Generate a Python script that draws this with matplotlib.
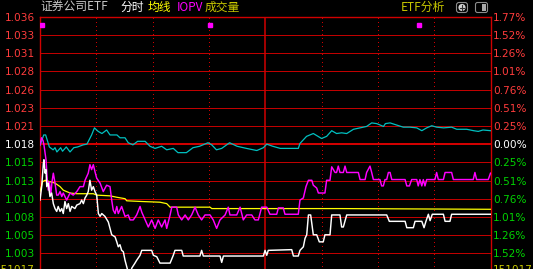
import matplotlib
matplotlib.use("Agg")
import matplotlib.pyplot as plt
from matplotlib.patches import FancyBboxPatch, Circle, Rectangle

# intraday chart, minutes 0..240 (9:30-11:30, 13:00-15:00)
prev_close = 1.018
grid_step = 0.0025714

price_labels = ["1.036", "1.033", "1.031", "1.028", "1.026", "1.023", "1.021",
                "1.018", "1.015", "1.013", "1.010", "1.008", "1.005", "1.003"]
pct_labels = ["1.77%", "1.52%", "1.26%", "1.01%", "0.76%", "0.51%", "0.25%",
              "0.00%", "0.25%", "0.51%", "0.76%", "1.01%", "1.26%", "1.52%"]
grid_steps = [7, 6, 5, 4, 3, 2, 1, 0, -1, -2, -3, -4, -5, -6]

# cyan line
cyan_t = [0, 2, 3, 4.4, 5, 7, 8, 9, 11, 12, 14, 16, 18, 20, 23, 25, 27.5, 29, 31, 33,
          35.5, 37.3, 41, 42.6, 45.3, 47, 49.5, 52, 56, 58.6, 61.3, 64.8, 67.5, 71,
          73.5, 78, 81.5, 85, 89.5, 91.5, 94, 96.8, 101, 105, 110, 115.5, 119, 120.8,
          124, 128, 137.6, 138.5, 142, 145.6, 150, 152.7, 155.4, 158, 160.7, 163.4,
          167, 170.5, 174, 176.7, 179.4, 183, 184, 186.5, 190, 193.5, 197, 200.7,
          203.4, 206, 208.7, 211.3, 215, 219.3, 222, 227.3, 231, 233.5, 236, 240]
cyan_v = [1.0178, 1.0193, 1.0193, 1.0181, 1.0176, 1.0172, 1.0175, 1.0169, 1.0175,
          1.0170, 1.0176, 1.0169, 1.0175, 1.0176, 1.0179, 1.0180, 1.0193, 1.0203,
          1.0198, 1.0195, 1.0200, 1.0193, 1.0193, 1.0189, 1.0189, 1.0182, 1.0179,
          1.0184, 1.0184, 1.0177, 1.0174, 1.0177, 1.0172, 1.0174, 1.0168, 1.0168,
          1.0175, 1.0177, 1.0182, 1.0179, 1.0172, 1.0174, 1.0182, 1.0177, 1.0174,
          1.0171, 1.0175, 1.0180, 1.0177, 1.0174, 1.0174, 1.0181, 1.0191, 1.0195,
          1.0188, 1.0191, 1.0199, 1.0195, 1.0196, 1.0195, 1.0201, 1.0203, 1.0205,
          1.0210, 1.0209, 1.0205, 1.0209, 1.0210, 1.0207, 1.0204, 1.0204, 1.0203,
          1.0199, 1.0203, 1.0206, 1.0204, 1.0203, 1.0204, 1.0201, 1.0201, 1.0199,
          1.0198, 1.0200, 1.0199]

# IOPV (magenta)
iopv_t = [0, 0.8, 1.6, 2.1, 3.2, 3.9, 4.4, 5, 5.7, 6.4, 7.1, 8, 8.9, 9.7, 10.7, 11.6,
          12.4, 13.3, 14.2, 15.1, 16, 17.7, 19.6, 21.3, 23.1, 24, 25.7, 26.6, 27.5,
          28.4, 29.3, 30.2, 32, 33.7, 35.5, 37.3, 38.2, 39, 40, 40.9, 41.7, 43.5,
          45.3, 47, 48, 49.7, 51.5, 53.3, 54.2, 56, 57.7, 59.5, 61.3, 63, 64.8, 66.6,
          67.5, 69.3, 70.2, 72.8, 73.7, 75.5, 77.3, 79, 80.8, 82.6, 84.3, 86.1, 87.9,
          90.6, 92.3, 94.1, 95.9, 98.6, 100.3, 101.2, 104.8, 106.6, 108.3, 110.1,
          112.8, 114.5, 116.3, 118.1, 120.8, 122.5, 126.1, 127, 129.6, 130.5, 137.6,
          138.5, 140.3, 141.7, 143, 144.8, 145.6, 147.4, 148.3, 151.8, 152.7, 154.5,
          155.4, 157.2, 158, 158.9, 159.8, 161.6, 162.5, 163.4, 169.6, 170.5, 173.2,
          174, 175.8, 176.7, 177.6, 181.1, 182, 182.9, 183.8, 184.7, 185.6, 186.5,
          187.4, 194.5, 195.4, 196.8, 198, 200.7, 201.5, 202.4, 203.4, 204.2, 205.1,
          206, 210.4, 211.3, 212.2, 214.9, 215.8, 219.3, 220.2, 230.8, 231.7, 232.6,
          238.8, 240]
iopv_v = [1.0179, 1.0189, 1.0185, 1.0179, 1.0158, 1.0129, 1.0115, 1.0127, 1.0108,
          1.0127, 1.0139, 1.0125, 1.0108, 1.0108, 1.0113, 1.0106, 1.0111, 1.0106,
          1.0101, 1.0106, 1.0111, 1.0108, 1.0113, 1.0120, 1.0120, 1.0129, 1.0139,
          1.0151, 1.0144, 1.0151, 1.0141, 1.0132, 1.0125, 1.0113, 1.0122, 1.0120,
          1.0101, 1.0087, 1.0082, 1.0092, 1.0082, 1.0092, 1.0078, 1.0080, 1.0073,
          1.0073, 1.0080, 1.0092, 1.0084, 1.0073, 1.0063, 1.0073, 1.0061, 1.0073,
          1.0063, 1.0073, 1.0061, 1.0080, 1.0091, 1.0091, 1.0080, 1.0073, 1.0080,
          1.0073, 1.0080, 1.0091, 1.0080, 1.0073, 1.0080, 1.0080, 1.0073, 1.0061,
          1.0073, 1.0080, 1.0091, 1.0080, 1.0080, 1.0091, 1.0073, 1.0080, 1.0080,
          1.0073, 1.0073, 1.0091, 1.0091, 1.0081, 1.0081, 1.0090, 1.0090, 1.0081,
          1.0081, 1.0101, 1.0104, 1.0120, 1.0129, 1.0129, 1.0122, 1.0118, 1.0111,
          1.0111, 1.0129, 1.0129, 1.0148, 1.0140, 1.0140, 1.0149, 1.0140, 1.0140,
          1.0149, 1.0140, 1.0140, 1.0130, 1.0130, 1.0140, 1.0149, 1.0140, 1.0130,
          1.0130, 1.0121, 1.0121, 1.0130, 1.0130, 1.0140, 1.0140, 1.0130, 1.0130,
          1.0121, 1.0121, 1.0130, 1.0130, 1.0121, 1.0130, 1.0121, 1.0130, 1.0121,
          1.0130, 1.0130, 1.0140, 1.0130, 1.0130, 1.0140, 1.0140, 1.0130, 1.0130,
          1.0140, 1.0130, 1.0130, 1.0139]

# average price (yellow)
avg_t = [0, 1.4, 2.7, 5.3, 8, 10.7, 12.4, 14.2, 16, 19.6, 28.4, 30.2, 37.3, 40.9,
         45.3, 46.2, 54.2, 63.9, 67.5, 69.3, 90.6, 91.5, 160, 240]
avg_v = [1.0113, 1.0127, 1.0129, 1.0127, 1.0125, 1.0120, 1.0115, 1.0113, 1.0111,
         1.0110, 1.0110, 1.0108, 1.0107, 1.0105, 1.0103, 1.0100, 1.0099, 1.0098,
         1.0096, 1.0091, 1.0091, 1.0089, 1.0089, 1.0088]

# last price (white)
price_t = [0, 0.9, 1.8, 2.1, 2.7, 3.2, 3.6, 4.4, 5.3, 6.2, 7.1, 8, 8.9, 9.7, 10.7,
           11.6, 12.4, 13.3, 14.2, 15.1, 16, 16.9, 18.6, 19.6, 21.3, 22.2, 23.1, 24,
           24.9, 25.7, 26.6, 27.5, 28.4, 29.3, 30.2, 31.1, 32, 32.9, 34.6, 36.4, 37.3,
           38.2, 40, 40.9, 41.7, 42.6, 43.5, 44.4, 45.3, 46.2, 47, 48, 48.9, 50.6,
           51.5, 53.3, 54.2, 59.5, 60.4, 62.2, 63.9, 69.3, 71, 71.9, 75.5, 76.3, 85.2,
           86.1, 87, 95.9, 96.8, 97.7, 119, 119.9, 120.8, 121.6, 134.1, 135, 137.6,
           138.5, 140.3, 141.2, 142.1, 143, 144.2, 145.6, 147.4, 148.8, 150.9, 151.8,
           154.5, 155.4, 159.8, 160.7, 161.6, 163.4, 184.7, 186.1, 194.5, 195.4,
           198.9, 199.8, 203.4, 204.6, 205.6, 206.9, 207.8, 209, 214.9, 215.8, 218.4,
           219.3, 240]
price_v = [1.0101, 1.0120, 1.0153, 1.0158, 1.0139, 1.0144, 1.0120, 1.0125, 1.0106,
           1.0111, 1.0096, 1.0089, 1.0085, 1.0092, 1.0085, 1.0089, 1.0082, 1.0099,
           1.0089, 1.0096, 1.0085, 1.0092, 1.0089, 1.0094, 1.0096, 1.0101, 1.0096,
           1.0104, 1.0108, 1.0113, 1.0129, 1.0115, 1.0120, 1.0113, 1.0108, 1.0082,
           1.0078, 1.0082, 1.0078, 1.0070, 1.0061, 1.0052, 1.0049, 1.0042, 1.0035,
           1.0038, 1.0030, 1.0028, 1.0016, 1.0007, 0.9999, 0.9995, 1.0005, 1.0012,
           1.0016, 1.0023, 1.0030, 1.0030, 1.0023, 1.0021, 1.0012, 1.0012, 1.0023,
           1.0030, 1.0030, 1.0022, 1.0022, 1.0030, 1.0022, 1.0022, 1.0013, 1.0022,
           1.0022, 1.0030, 1.0023, 1.0030, 1.0031, 1.0022, 1.0022, 1.0030, 1.0035,
           1.0047, 1.0052, 1.0080, 1.0080, 1.0052, 1.0052, 1.0042, 1.0042, 1.0052,
           1.0052, 1.0080, 1.0080, 1.0063, 1.0063, 1.0080, 1.0080, 1.0071, 1.0071,
           1.0062, 1.0062, 1.0071, 1.0071, 1.0062, 1.0071, 1.0081, 1.0072, 1.0081,
           1.0081, 1.0071, 1.0071, 1.0081, 1.0081]

# small magenta event marks near the top
mark_t = [1.2, 90.3, 201.7]
mark_v = [1.0348, 1.0348, 1.0348]

W, H = 533, 269
RED_GRID = "#c00000"
RED_AXIS = "#d00000"
UP = "#ff3c3c"
DOWN = "#00d200"
OLIVE = "#c8c800"
CJK = ["Noto Sans CJK SC", "DejaVu Sans"]
PX = 0.72  # one pixel in points

fig = plt.figure(figsize=(W / 100, H / 100), dpi=100, facecolor="black")

# axes in pixel terms: x 40..490.5, top 16.7, price 1.000 at y 271.6
ax = fig.add_axes([40 / W, (H - 271.6) / H, 450.5 / W, (271.6 - 16.7) / H])
ax.set_facecolor("black")
ax.set_xlim(0, 240)
ax.set_ylim(prev_close - 7 * grid_step, prev_close + 7 * grid_step)

levels = [prev_close + k * grid_step for k in grid_steps]
for k, lv in zip(grid_steps, levels):
    if k == 7:
        continue
    if k == 0:
        ax.axhline(lv, color=RED_AXIS, lw=2 * PX, antialiased=False, zorder=1)
    else:
        ax.axhline(lv, color=RED_GRID, lw=PX, antialiased=False, zorder=1)

for m in [30, 60, 90, 150, 180, 210]:
    ax.axvline(m, color=RED_AXIS, lw=PX, dashes=(1, 3), antialiased=False, zorder=1)
ax.axvline(120, color=RED_AXIS, lw=1.1, zorder=1)

for s in ["left", "right", "top"]:
    ax.spines[s].set_color(RED_AXIS)
    ax.spines[s].set_linewidth(1.0)
ax.spines["bottom"].set_visible(False)

ax.plot(cyan_t, cyan_v, color="#00c0c0", lw=0.9, zorder=3)
ax.plot(avg_t, avg_v, color="#ffff00", lw=0.9, zorder=3)
ax.plot(iopv_t, iopv_v, color="#ff00ff", lw=1.05, zorder=4)
ax.plot(price_t, price_v, color="white", lw=1.05, zorder=5)
ax.plot(mark_t, mark_v, "s", color="#ff00ff", ms=2.3, zorder=6)

ax.set_xticks([])
ax.set_yticks(levels)
ax.set_yticklabels(price_labels)
ax.tick_params(axis="y", length=0, pad=3.6, labelsize=7.6)

ax2 = ax.twinx()
ax2.set_ylim(ax.get_ylim())
ax2.set_yticks(levels)
ax2.set_yticklabels(pct_labels)
ax2.tick_params(axis="y", length=0, pad=2.0, labelsize=7.6)
for s in ax2.spines.values():
    s.set_visible(False)

for k, lab_l, lab_r in zip(grid_steps, ax.get_yticklabels(), ax2.get_yticklabels()):
    c = UP if k > 0 else ("white" if k == 0 else DOWN)
    lab_l.set_color(c)
    lab_r.set_color(c)

# header and overlay in pixel coordinates
ov = fig.add_axes([0, 0, 1, 1])
ov.set_xlim(0, W)
ov.set_ylim(H, 0)
ov.axis("off")

ov.text(40, 7.5, "证券公司ETF", color="#c8c8c8", fontsize=8.5, family=CJK, va="center")
ov.text(120, 7.5, "分时", color="white", fontsize=8.5, family=CJK, va="center")
ov.text(148, 7.5, "均线", color="#ffff00", fontsize=8.5, family=CJK, va="center")
ov.text(176.5, 7.5, "IOPV", color="#ff00ff", fontsize=8.5, family=CJK, va="center")
ov.text(205, 7.5, "成交量", color=OLIVE, fontsize=8.5, family=CJK, va="center")
ov.text(401, 7.5, "ETF分析", color=OLIVE, fontsize=8.5, family=CJK, va="center")

ov.add_patch(FancyBboxPatch((456.5, 2.5), 11, 10, boxstyle="round,pad=0,rounding_size=2.5",
                            fc="none", ec="#8c8c8c", lw=0.8))
ov.add_patch(Circle((462, 7.5), 3.6, fc="#d0d0d0", ec="none"))
ov.plot([462, 462], [5.3, 9.7], color="#303030", lw=0.8)
ov.plot([459.8, 464.2], [7.5, 7.5], color="#303030", lw=0.8)
ov.add_patch(FancyBboxPatch((475.5, 2.5), 12, 10, boxstyle="round,pad=0,rounding_size=2",
                            fc="none", ec="#8c8c8c", lw=0.8))
ov.add_patch(Rectangle((482, 4), 4, 7, fc="#a8a8a8", ec="none"))

# volume scale labels, cut by the bottom edge as in the original
ov.text(35, 270, "151017", color=OLIVE, fontsize=7.6, ha="right", va="center")
ov.text(493, 270, "151017", color=OLIVE, fontsize=7.6, ha="left", va="center")

fig.savefig("out.png", dpi=100, facecolor="black")
